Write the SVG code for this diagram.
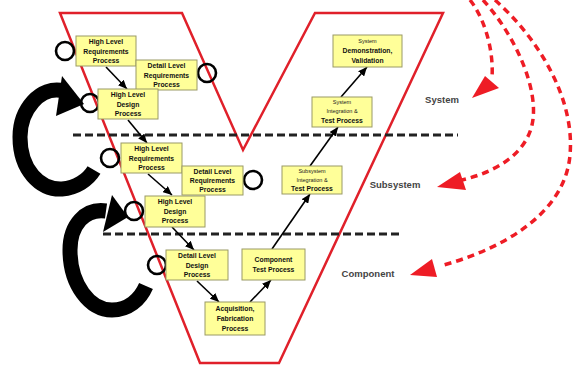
<svg xmlns="http://www.w3.org/2000/svg" width="578" height="368" viewBox="0 0 578 368">
<style>
.box{fill:#ffff99;stroke:#9a9a66;stroke-width:1}
.t{font-family:"Liberation Sans",Arial,sans-serif;font-size:6.8px;font-weight:bold;fill:#111;text-anchor:middle}
.ts{font-family:"Liberation Sans",Arial,sans-serif;font-size:5.5px;fill:#222;text-anchor:middle}
.lbl{font-family:"Liberation Sans",Arial,sans-serif;font-size:9.5px;font-weight:bold;fill:#444;text-anchor:middle}
.flow{stroke:#000;stroke-width:1.6;fill:none;marker-end:url(#ah)}
.loop{stroke:#000;stroke-width:2.6;fill:none}
.big{stroke:#000;stroke-width:15;fill:none}
.sep{stroke:#222;stroke-width:3;stroke-dasharray:8 4;fill:none}
.red{stroke:#ee1c25;stroke-width:3.5;stroke-dasharray:7 5;fill:none}
</style>
<defs>
<marker id="ah" markerUnits="userSpaceOnUse" markerWidth="9" markerHeight="8" refX="9" refY="4" orient="auto">
<path d="M0,0 L9,4 L0,8 z" fill="#000"/>
</marker>
</defs>
<rect width="578" height="368" fill="#fff"/>
<g id="vee">
<polygon points="60,13 182,13 243,150 315,13 443,13 279,363 200,363" fill="none" stroke="#e0202a" stroke-width="2.5"/>
</g>
<g id="levels">
<line class="sep" x1="73" y1="135" x2="458" y2="135"/>
<line class="sep" x1="103" y1="234" x2="403" y2="234"/>
</g>
<g id="connectors">
<path class="big" d="M64,91 C40,85 20,110 20,137 C20,170 40,190 62,189 C76,188 88,180 94,170"/>
<polygon points="62,76 84,104 56,116" fill="#000"/>
<path class="big" d="M106,211 C85,208 70,225 70,250 C70,285 90,310 112,310 C128,310 140,300 146,286"/>
<polygon points="112,195 128,217 103,232" fill="#000"/>
<circle class="loop" cx="65" cy="51" r="9"/>
<circle class="loop" cx="207" cy="73" r="9"/>
<circle class="loop" cx="90" cy="103" r="9"/>
<circle class="loop" cx="110" cy="158" r="9"/>
<circle class="loop" cx="253" cy="180" r="9"/>
<circle class="loop" cx="134" cy="211" r="9"/>
<circle class="loop" cx="157" cy="265" r="9"/>
<line class="flow" x1="106" y1="67" x2="127" y2="89"/>
<line class="flow" x1="128" y1="120" x2="147" y2="143"/>
<line class="flow" x1="148" y1="174" x2="172" y2="195"/>
<line class="flow" x1="172" y1="227" x2="194" y2="250"/>
<line class="flow" x1="197" y1="281" x2="219" y2="302"/>
<line class="flow" x1="250" y1="302" x2="271" y2="280"/>
<line class="flow" x1="272" y1="249" x2="310" y2="194"/>
<line class="flow" x1="310" y1="166" x2="338" y2="127"/>
<line class="flow" x1="341" y1="97" x2="367" y2="67"/>
<path class="red" d="M470,0 C482,15 494,45 492,78"/>
<polygon points="472,98 485,76 499,88" fill="#ee1c25"/>
<path class="red" d="M483,0 C515,35 540,90 532,125 C525,155 495,172 462,180"/>
<polygon points="437,187 460,172 466,190" fill="#ee1c25"/>
<path class="red" d="M495,0 C540,40 575,100 570,155 C565,215 500,250 440,266"/>
<polygon points="410,275 432,259 437,277" fill="#ee1c25"/>
</g>
<g id="n1"><rect class="box" x="76" y="36" width="60" height="30"/><text class="t" x="106" y="44">High Level</text><text class="t" x="106" y="53.5">Requirements</text><text class="t" x="106" y="63">Process</text></g>
<g id="n2"><rect class="box" x="136" y="60" width="61" height="30"/><text class="t" x="166.5" y="68">Detail Level</text><text class="t" x="166.5" y="77.5">Requirements</text><text class="t" x="166.5" y="87">Process</text></g>
<g id="n3"><rect class="box" x="98" y="89" width="60" height="30"/><text class="t" x="128" y="97">High Level</text><text class="t" x="128" y="106.5">Design</text><text class="t" x="128" y="116">Process</text></g>
<g id="n4"><rect class="box" x="121" y="143" width="61" height="30"/><text class="t" x="151.5" y="151">High Level</text><text class="t" x="151.5" y="160.5">Requirements</text><text class="t" x="151.5" y="170">Process</text></g>
<g id="n5"><rect class="box" x="182" y="166" width="61" height="29"/><text class="t" x="212.5" y="174">Detail Level</text><text class="t" x="212.5" y="183">Requirements</text><text class="t" x="212.5" y="192">Process</text></g>
<g id="n6"><rect class="box" x="145" y="196" width="60" height="31"/><text class="t" x="175" y="204">High Level</text><text class="t" x="175" y="213.5">Design</text><text class="t" x="175" y="223">Process</text></g>
<g id="n7"><rect class="box" x="166" y="250" width="62" height="30"/><text class="t" x="197" y="258">Detail Level</text><text class="t" x="197" y="267.5">Design</text><text class="t" x="197" y="277">Process</text></g>
<g id="n8"><rect class="box" x="242" y="249" width="63" height="31"/><text class="t" x="273.5" y="262">Component</text><text class="t" x="273.5" y="271.5">Test Process</text></g>
<g id="n9"><rect class="box" x="205" y="302" width="60" height="33"/><text class="t" x="235" y="311">Acquisition,</text><text class="t" x="235" y="321">Fabrication</text><text class="t" x="235" y="331">Process</text></g>
<g id="n10"><rect class="box" x="282" y="166" width="60" height="28"/><text class="ts" x="312" y="173">Subsystem</text><text class="ts" x="312" y="182">Integration &amp;</text><text class="t" x="312" y="191">Test Process</text></g>
<g id="n11"><rect class="box" x="312" y="97" width="60" height="30"/><text class="ts" x="342" y="104">System</text><text class="ts" x="342" y="113">Integration &amp;</text><text class="t" x="342" y="123">Test Process</text></g>
<g id="n12"><rect class="box" x="333" y="35" width="69" height="32"/><text class="ts" x="367.5" y="43">System</text><text class="t" x="367.5" y="53">Demonstration,</text><text class="t" x="367.5" y="63">Validation</text></g>
<g id="labels">
<text class="lbl" x="442" y="103">System</text>
<text class="lbl" x="395" y="187.5">Subsystem</text>
<text class="lbl" x="368" y="276.5">Component</text>
</g>
</svg>
